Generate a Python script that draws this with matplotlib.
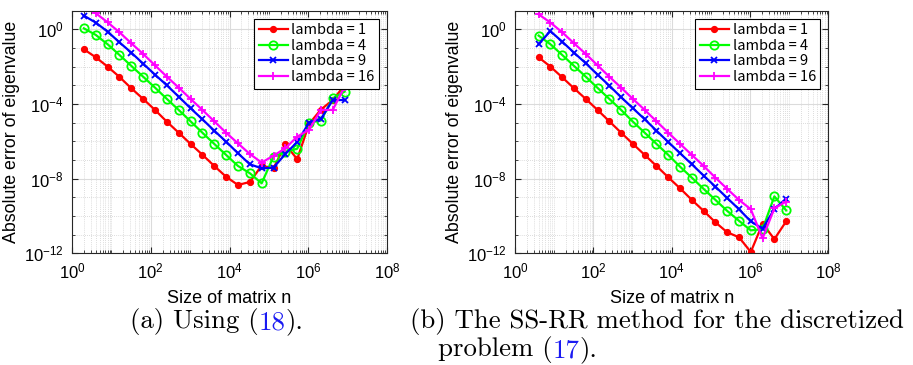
import numpy as np
import matplotlib
matplotlib.use("Agg")
import matplotlib.pyplot as plt
from matplotlib.ticker import FixedLocator, NullFormatter, LogFormatterSciNotation

# ---------------- data (log10 of absolute error) ----------------
n_a = [2, 4, 8, 16, 32, 64, 128, 256, 512, 1024, 2048, 4096, 8192, 16384,
       32768, 65536, 131072, 262144, 524288, 1048576, 2097152, 4194304, 8388608]
a_lam1 = [-1.07, -1.50, -2.00, -2.55, -3.16, -3.73, -4.32, -4.95, -5.54, -6.14, -6.72, -7.32,
          -7.90, -8.34, -8.18, -7.31, -7.45, -6.16, -6.96, -5.07, -4.30, -3.79, -3.00]
a_lam4 = [0.05, -0.30, -0.80, -1.375, -1.96, -2.54, -3.125, -3.73, -4.32, -4.93, -5.54, -6.14,
          -6.73, -7.32, -7.71, -8.25, -6.82, -6.56, -6.40, -5.00, -4.89, -3.70, -3.34]
a_lam9 = [0.73, 0.36, -0.125, -0.70, -1.25, -1.84, -2.43, -3.00, -3.61, -4.23, -4.82, -5.43,
          -6.02, -6.64, -7.23, -7.45, -7.41, -6.68, -6.04, -5.00, -4.80, -3.79, -3.79]
a_lam16 = [1.20, 0.86, 0.375, -0.16, -0.75, -1.32, -1.93, -2.54, -3.125, -3.73, -4.32, -4.93,
           -5.54, -6.11, -6.68, -7.14, -6.77, -6.375, -5.75, -5.39, -4.32, -4.32, -3.07]

n_b = [4, 8, 16, 32, 64, 128, 256, 512, 1024, 2048, 4096, 8192, 16384,
       32768, 65536, 131072, 262144, 524288, 1048576, 2097152, 4194304, 8388608]
b_lam1 = [-1.50, -2.00, -2.57, -3.16, -3.73, -4.32, -4.93, -5.54, -6.14, -6.73, -7.32, -7.93,
          -8.52, -9.14, -9.73, -10.34, -10.875, -11.14, -11.93, -10.41, -11.24, -10.29]
b_lam4 = [-0.34, -0.80, -1.375, -1.96, -2.54, -3.14, -3.73, -4.32, -4.95, -5.54, -6.14, -6.73,
          -7.36, -7.95, -8.55, -9.14, -9.73, -10.26, -10.77, -10.71, -8.95, -9.70]
b_lam9 = [-0.80, -0.10, -0.66, -1.25, -1.82, -2.43, -3.02, -3.64, -4.23, -4.82, -5.43, -6.04,
          -6.64, -7.23, -7.84, -8.43, -9.04, -9.64, -10.29, -10.68, -9.63, -9.07]
b_lam16 = [0.80, 0.36, -0.16, -0.75, -1.32, -1.93, -2.54, -3.125, -3.73, -4.32, -4.93, -5.54,
           -6.14, -6.73, -7.32, -7.95, -8.55, -9.14, -9.64, -11.20, -9.59, -9.23]

labels = ["lambda = 1", "lambda = 4", "lambda = 9", "lambda = 16"]
xticks = [1e0, 1e2, 1e4, 1e6, 1e8]
yticks = [1e-12, 1e-8, 1e-4, 1e0]

# ---------------- style ----------------
plt.rcParams["font.family"] = ["Liberation Sans", "DejaVu Sans"]
plt.rcParams["mathtext.default"] = "regular"

styles = [
    dict(color=(1, 0, 0), marker="o", markersize=4.2, markerfacecolor=(1, 0, 0)),
    dict(color=(0, 1, 0), marker="o", markersize=6.0, markerfacecolor="none", markeredgewidth=1.3),
    dict(color=(0, 0, 1), marker="x", markersize=5.0, markeredgewidth=1.3),
    dict(color=(1, 0, 1), marker="+", markersize=6.0, markeredgewidth=1.3),
]

W, H = 913, 365
fig = plt.figure(figsize=(W / 100, H / 100), dpi=100)

def px_axes(x0, x1, y0, y1):
    return fig.add_axes([x0 / W, 1 - y1 / H, (x1 - x0) / W, (y1 - y0) / H])

ax_a = px_axes(72, 387, 10.6, 253.3)
ax_b = px_axes(515, 828.3, 10.6, 253.3)

minor_x = [m * 10.0 ** e for e in range(0, 8) for m in range(1, 10)
           if not (m == 1 and e % 2 == 0)]
minor_y = [10.0 ** e for e in range(-12, 2) if e % 4 != 0]

def draw(ax, n, series):
    for vals, st, lab in zip(series, styles, labels):
        ax.plot(n, 10.0 ** np.array(vals), linewidth=1.6, label=lab, **st)
    ax.set_xscale("log")
    ax.set_yscale("log")
    ax.set_xlim(1e0, 1e8)
    ax.set_ylim(1e-12, 1e1)
    ax.xaxis.set_major_locator(FixedLocator(xticks))
    ax.yaxis.set_major_locator(FixedLocator(yticks))
    ax.xaxis.set_minor_locator(FixedLocator(minor_x))
    ax.yaxis.set_minor_locator(FixedLocator(minor_y))
    ax.xaxis.set_major_formatter(LogFormatterSciNotation())
    ax.yaxis.set_major_formatter(LogFormatterSciNotation())
    ax.xaxis.set_minor_formatter(NullFormatter())
    ax.yaxis.set_minor_formatter(NullFormatter())
    ax.grid(True, which="major", color=(0.86, 0.86, 0.86), linestyle="-", linewidth=0.8)
    ax.grid(True, which="minor", color=(0.82, 0.82, 0.82), linestyle=(0, (1, 1.5)), linewidth=0.6)
    ax.set_axisbelow(True)
    ax.tick_params(which="both", direction="in", top=True, right=True, labelsize=12,
                   color=(0.15, 0.15, 0.15))
    ax.tick_params(which="major", length=4, pad=6)
    ax.tick_params(which="minor", length=2)
    for s in ax.spines.values():
        s.set_color((0.15, 0.15, 0.15))
        s.set_linewidth(0.8)
    ax.set_xlabel("Size of matrix n", fontsize=13, labelpad=6)
    ax.set_ylabel("Absolute error of eigenvalue", fontsize=12.8, labelpad=3)
    leg = ax.legend(loc="upper right", handlelength=2.0, handletextpad=0.25,
                    borderpad=0.3, labelspacing=0.12, borderaxespad=0.55, fancybox=False,
                    framealpha=1, edgecolor="black",
                    prop=dict(family=["Noto Sans CJK JP", "DejaVu Sans"], size=10.5))
    leg.get_frame().set_linewidth(0.8)

draw(ax_a, n_a, [a_lam1, a_lam4, a_lam9, a_lam16])
draw(ax_b, n_b, [b_lam1, b_lam4, b_lam9, b_lam16])

# ---------------- captions ----------------
cap_kw = dict(fontsize=19.3, family="cmr10")
blue_ref = (0.1, 0.1, 0.95)

def chain(x, y, parts):
    t = fig.text(x / W, 1 - y / H, parts[0][0], color=parts[0][1],
                 va="baseline", ha="left", **cap_kw)
    for txt, col in parts[1:]:
        t = plt.annotate(txt, xy=(1, 0), xycoords=t, xytext=(0, 0), textcoords="offset points",
                         va="bottom", ha="left", color=col, annotation_clip=False, **cap_kw)
    return t

chain(130, 328, [("(a) Using (", "black"), ("18", blue_ref), (").", "black")])
chain(410, 328, [("(b) The SS-RR method for the discretized", "black")])
chain(438, 356, [("problem (", "black"), ("17", blue_ref), (").", "black")])

fig.savefig("out.png", dpi=100)
